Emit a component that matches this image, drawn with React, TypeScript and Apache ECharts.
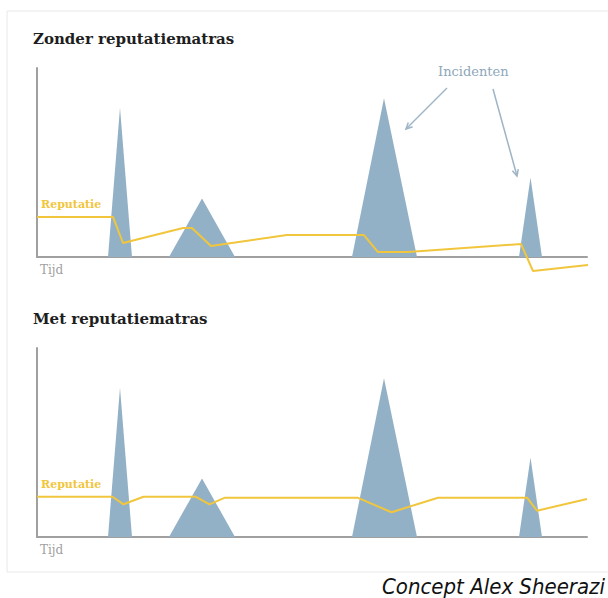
import React, { useEffect, useRef } from "react";
import * as echarts from "echarts";

// Time axis units (0..110), value axis units (0..100)
const spikes: number[][][] = [
  [[14.2, 0], [16.6, 79], [19, 0]],
  [[26.4, 0], [33, 31], [39.6, 0]],
  [[63, 0], [69.4, 84], [76, 0]],
  [[96.4, 0], [98.7, 42], [101, 0]],
];

const reputatieZonder: number[][] = [
  [0, 21.2], [15.2, 21.2], [17.2, 7.4], [29.2, 15.3], [31, 15.3], [34.8, 5.8],
  [50, 11.6], [65.4, 11.6], [68.2, 2.6], [74.2, 2.6], [96.8, 6.9], [99.2, -7.4], [110.2, -4.2],
];

const reputatieMet: number[][] = [
  [0, 21.3], [15.1, 21.3], [17.3, 17.3], [21.3, 21.3], [31.7, 21.3], [34.5, 17.3],
  [37.6, 20.8], [64.1, 20.8], [70.9, 13.1], [80.2, 20.8], [98, 20.8], [100, 13.9], [110, 20.1],
];

const titles = ["Zonder reputatiematras", "Met reputatiematras"];
const lineLabel = "Reputatie";
const axisLabel = "Tijd";
const annotation = "Incidenten";
const credit = "Concept Alex Sheerazi";

const SPIKE = "#93b1c6";
const YELLOW = "#f1c63c";
const AXIS = "#a0a0a0";
const SERIF = "'DejaVu Serif', serif";

function arrow(x1: number, y1: number, x2: number, y2: number, color: string) {
  const dx = x2 - x1, dy = y2 - y1;
  const len = Math.hypot(dx, dy);
  const ux = dx / len, uy = dy / len;
  const h = 7, a = 0.45;
  const c = Math.cos(a), s = Math.sin(a);
  const lx = x2 - h * (ux * c - uy * s), ly = y2 - h * (uy * c + ux * s);
  const rx = x2 - h * (ux * c + uy * s), ry = y2 - h * (uy * c - ux * s);
  return [
    { type: "line", shape: { x1, y1, x2, y2 }, style: { stroke: color, lineWidth: 1.5 }, silent: true },
    { type: "polyline", shape: { points: [[lx, ly], [x2, y2], [rx, ry]] }, style: { stroke: color, lineWidth: 1.5, fill: null }, silent: true },
  ];
}

export default function App() {
  const ref = useRef<HTMLDivElement>(null);
  useEffect(() => {
    document.body.style.margin = "0";
    const chart = echarts.init(ref.current!, null, { renderer: "svg" });
    const grids = [
      { left: 37, right: 21, top: 68, height: 189 },
      { left: 37, right: 21, top: 348, height: 189 },
    ];
    const axisCommon = {
      type: "value",
      axisLine: { show: true, lineStyle: { color: AXIS, width: 2 } },
      axisTick: { show: false },
      axisLabel: { show: false },
      splitLine: { show: false },
    };
    const series: any[] = [];
    [0, 1].forEach((g) => {
      spikes.forEach((sp, i) => {
        series.push({
          type: "line",
          name: "Incident " + (i + 1),
          xAxisIndex: g,
          yAxisIndex: g,
          data: sp,
          symbol: "none",
          lineStyle: { width: 0 },
          areaStyle: { color: SPIKE, opacity: 1 },
          z: 1,
        });
      });
      series.push({
        type: "line",
        name: lineLabel,
        xAxisIndex: g,
        yAxisIndex: g,
        data: g === 0 ? reputatieZonder : reputatieMet,
        symbol: "none",
        clip: false,
        lineStyle: { color: YELLOW, width: 2 },
        z: 5,
      });
    });

    const texts: any[] = [];
    const tops = [0, 280];
    tops.forEach((off, g) => {
      texts.push({
        type: "text", left: 33, top: 31 + off,
        style: { text: titles[g], font: `bold 15px ${SERIF}`, fill: "#1e1e1e" },
      });
      texts.push({
        type: "text", left: 41, top: 199 + off,
        style: { text: lineLabel, font: `bold 11px ${SERIF}`, fill: YELLOW },
      });
      texts.push({
        type: "text", left: 40, top: 264 + off,
        style: { text: axisLabel, font: `12px ${SERIF}`, fill: "#a0a0a0" },
      });
    });

    chart.setOption({
      animation: false,
      backgroundColor: "#ffffff",
      grid: grids,
      xAxis: [0, 1].map((g) => ({ ...axisCommon, gridIndex: g, min: 0, max: 110, axisLine: { ...axisCommon.axisLine, onZero: false } })),
      yAxis: [0, 1].map((g) => ({ ...axisCommon, gridIndex: g, min: 0, max: 100 })),
      series,
      graphic: [
        {
          type: "rect", shape: { x: 7, y: 11, width: 640, height: 561 },
          style: { fill: "#ffffff", stroke: "#e8e8e8", lineWidth: 1 }, z: -10, silent: true,
        },
        ...texts,
        {
          type: "text", left: 438, top: 65,
          style: { text: annotation, font: `13px ${SERIF}`, fill: "#8ea7ba" },
        },
        ...arrow(447, 88, 406, 129, "#9fb5c5"),
        ...arrow(493, 89, 517, 176, "#9fb5c5"),
        {
          type: "text", right: 3, top: 575,
          style: { text: credit, font: `italic 22px 'Liberation Sans Narrow', 'DejaVu Sans Condensed', sans-serif`, fill: "#111111" },
        },
      ],
    });
    return () => chart.dispose();
  }, []);
  return <div ref={ref} style={{ width: 608, height: 598 }} />;
}
